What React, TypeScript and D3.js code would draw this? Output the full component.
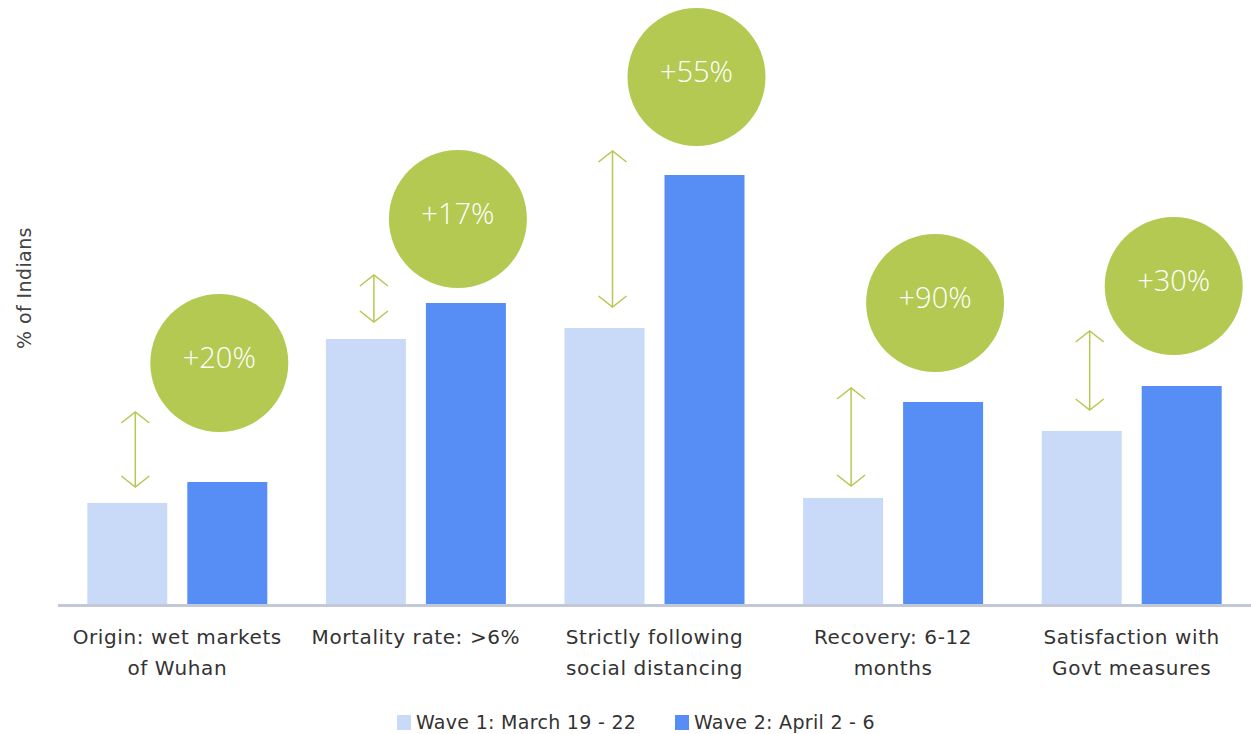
import React, { useEffect } from "react";
import * as d3 from "d3";

const categories = [
  ["Origin: wet markets", "of Wuhan"],
  ["Mortality rate: >6%"],
  ["Strictly following", "social distancing"],
  ["Recovery: 6-12", "months"],
  ["Satisfaction with", "Govt measures"],
];
const wave1 = [20.2, 53, 55.2, 21.2, 34.6];
const wave2 = [24.4, 60.2, 85.8, 40.4, 43.6];
const changeLabels = ["+20%", "+17%", "+55%", "+90%", "+30%"];
// annotation anchors in value units
const arrowTop = [38.4, 65.8, 90.6, 43.2, 54.6];
const arrowBottom = [23.4, 56.4, 59.4, 23.6, 38.8];
const circleLevel = [48.2, 77, 105.4, 60.2, 63.6];
const seriesNames = ["Wave 1: March 19 - 22", "Wave 2: April 2 - 6"];

const W = 1251;
const H = 734;
const LIGHT = "#c9daf8";
const DARK = "#578ef6";
const GREEN = "#b3c952";
const TEXT = "#333333";
const LABEL_FONT = "'DejaVu Sans', sans-serif";

export default function App() {
  useEffect(() => {
    document.body.style.margin = "0";
  }, []);

  const x = d3.scaleBand<number>().domain(d3.range(categories.length)).range([58, 1251]).padding(0);
  const y = d3.scaleLinear().domain([0, 100]).range([604, 104]);
  const barW = 80;
  const gap = 20;
  const r = 69;
  const center = (i: number) => (x(i) as number) + x.bandwidth() / 2;

  const legendItems = [
    { name: seriesNames[0], color: LIGHT, x: 397 },
    { name: seriesNames[1], color: DARK, x: 675 },
  ];

  return (
    <svg width={W} height={H} style={{ display: "block", background: "#fff" }}>
      <text
        transform={`translate(31,288) rotate(-90)`}
        textAnchor="middle"
        fontFamily={LABEL_FONT}
        fontSize={19}
        letterSpacing={0.4}
        fill="#444"
      >
        % of Indians
      </text>

      {categories.map((cat, i) => {
        const c = center(i);
        const x1 = c - gap / 2 - barW;
        const x2 = c + gap / 2;
        const ax = x1 + barW / 2 + 8;
        const cx = x2 + barW / 2 - 8;
        const cy = y(circleLevel[i]);
        const at = y(arrowTop[i]);
        const ab = y(arrowBottom[i]);
        return (
          <g key={i}>
            <rect x={x1} y={y(wave1[i])} width={barW} height={y(0) - y(wave1[i])} fill={LIGHT} />
            <rect x={x2} y={y(wave2[i])} width={barW} height={y(0) - y(wave2[i])} fill={DARK} />
            <g stroke={GREEN} strokeWidth={1.5} fill="none">
              <line x1={ax} x2={ax} y1={at} y2={ab} />
              <polyline points={`${ax - 14},${at + 11} ${ax},${at} ${ax + 14},${at + 11}`} />
              <polyline points={`${ax - 14},${ab - 11} ${ax},${ab} ${ax + 14},${ab - 11}`} />
            </g>
            <circle cx={cx} cy={cy} r={r} fill={GREEN} />
            <text
              x={cx}
              y={cy - 3}
              textAnchor="middle"
              dominantBaseline="middle"
              fontFamily="'Open Sans', sans-serif"
              fontWeight={300}
              fontSize={29}
              fill="#fff"
            >
              {changeLabels[i]}
            </text>
            {cat.map((line, j) => (
              <text
                key={j}
                x={c}
                y={644 + j * 31}
                textAnchor="middle"
                fontFamily={LABEL_FONT}
                fontSize={20}
                letterSpacing={0.6}
                fill={TEXT}
              >
                {line}
              </text>
            ))}
          </g>
        );
      })}

      <line x1={58} x2={1251} y1={605.5} y2={605.5} stroke="#c2c8d6" strokeWidth={3} />

      {legendItems.map((it, i) => (
        <g key={i}>
          <rect x={it.x} y={715} width={14} height={15} fill={it.color} />
          <text
            x={it.x + 19}
            y={729}
            fontFamily={LABEL_FONT}
            fontSize={19}
            letterSpacing={0.3}
            fill={TEXT}
          >
            {it.name}
          </text>
        </g>
      ))}
    </svg>
  );
}
